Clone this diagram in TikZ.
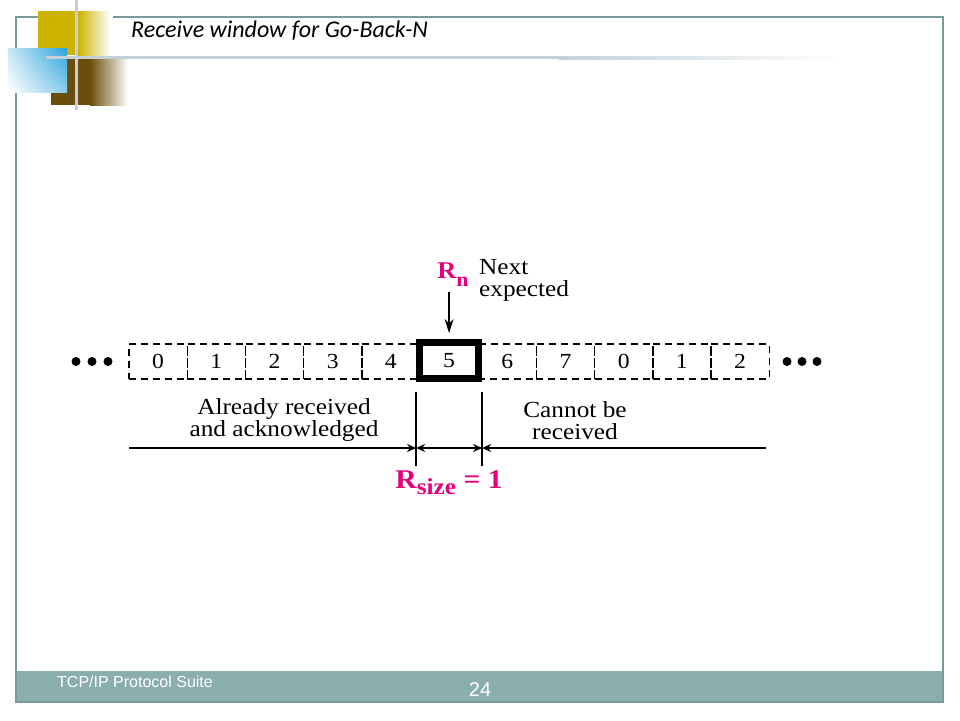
\documentclass[tikz,border=0pt]{standalone}
\usepackage{fontspec}
\setmainfont{Liberation Serif}[FakeStretch=1.1]
\newfontfamily\titlefont{Carlito}
\newfontfamily\footfont{Liberation Sans}
\usetikzlibrary{arrows.meta,positioning,shadings}

\definecolor{magentared}{RGB}{228,0,124}
\definecolor{frameteal}{RGB}{122,154,154}
\definecolor{bandteal}{RGB}{138,173,173}
\definecolor{gold}{RGB}{204,180,0}
\definecolor{umber}{RGB}{106,78,10}
\definecolor{skyblue}{RGB}{41,163,218}
\definecolor{rulegray}{RGB}{196,207,215}

\tikzset{
    cell/.style={draw,dash pattern=on 7pt off 5pt,line width=1.4pt,minimum width=58.2pt,
        minimum height=35pt,inner sep=0pt,font=\fontsize{21.5}{21.5}\selectfont},
    nextbox/.style={draw,line width=7pt,minimum width=59pt,minimum height=36pt,
        inner sep=0pt,font=\fontsize{21.5}{21.5}\selectfont},
    note/.style={inner sep=0pt,font=\fontsize{23}{22}\selectfont},
    pinklabel/.style={inner sep=0pt,text=magentared,font=\bfseries\fontsize{24}{24}\selectfont},
    footnote/.style={inner sep=0pt,text=white,font=\footfont\fontsize{16}{16}\selectfont},
    dimline/.style={line width=1.3pt},
}

\begin{document}
\begin{tikzpicture}[x=1pt,y=-1pt,>={Stealth[length=9pt,width=8pt]}]
    \useasboundingbox (0,0) rectangle (960,720);
    % slide frame and footer
    \fill[bandteal] (16,671) rectangle (943,702);
    \draw[frameteal,line width=1.3pt] (16,17) rectangle (943,702);
    \fill[white] (38,10) rectangle (113,18);
    % corner squares
    \fill[gold] (38,11) rectangle (79,55);
    \shade[left color=gold,right color=white] (78,11) rectangle (110,55);
    \fill[umber] (51,58) rectangle (91,105);
    \shade[left color=umber,right color=white] (90,58) rectangle (128,105);
    \shade[upper left=skyblue!25,upper right=skyblue,lower left=white,lower right=skyblue!55] (8,48) rectangle (67,92);
    \draw[rulegray,line width=3pt] (76.5,0) -- (76.5,110);
    \fill[rulegray] (46,56) rectangle (560,59);
    \shade[left color=rulegray,right color=white] (559,56) rectangle (840,59);
    \node[anchor=base west,inner sep=0pt,font=\titlefont\itshape\fontsize{24}{24}\selectfont] (title) at (131,37) {Receive window for Go-Back-N};
    \node[footnote,anchor=base west] (suite) at (57,687) {TCP/IP Protocol Suite};
    \node[footnote,anchor=base,font=\footfont\fontsize{20}{20}\selectfont] (page) at (480,696) {24};

    % the window
    \foreach \i/\lbl in {0/0,1/1,2/2,3/3,4/4,6/6,7/7,8/0,9/1,10/2}
        \node[cell] (c\i) at ({129+58.2*(\i+0.5)},361.5) {\lbl};
    \node[nextbox] (c5) at (449.1,360.5) {5};
    \foreach \x in {76,92,108,787,802,817}
        \fill (\x,361.5) circle[radius=4.5];

    \coordinate (rnfoot) at (449.1,292);
    \draw[line width=1.4pt,-{Stealth[length=14pt,width=9pt]},shorten >=6pt] (rnfoot) -- (c5.north);
    \node[pinklabel,anchor=base] (rn) at (453,278) {R\raisebox{-8pt}{\fontsize{20}{20}\selectfont n}};
    \node[note,align=left,anchor=base west] (next) at (479,296) {Next\\expected};

    % received / not received
    \coordinate (lwtop) at ([yshift=-10pt]c5.south west);
    \coordinate (lwbot) at ([yshift=-84pt]c5.south west);
    \coordinate (rwtop) at ([yshift=-10pt]c5.south east);
    \coordinate (rwbot) at ([yshift=-84pt]c5.south east);
    \draw[dimline] (lwtop) -- (lwbot);
    \draw[dimline] (rwtop) -- (rwbot);
    \coordinate (l0) at (129,448);
    \coordinate (l1) at (766,448);
    \draw[dimline,->] (l0) -- (lwtop |- l0);
    \draw[dimline,<->] (lwtop |- l0) -- (rwtop |- l0);
    \draw[dimline,<-] (rwtop |- l0) -- (l1);
    \node[note,align=center,anchor=base] (done) at (284,436) {Already received\\and acknowledged};
    \node[note,align=center,anchor=base] (notyet) at (575,439) {Cannot be\\received};
    \node[pinklabel,anchor=base,font=\bfseries\fontsize{27}{27}\selectfont] (rsize) at (449,488) {R\raisebox{-6pt}{\fontsize{23}{23}\selectfont size} = 1};
\end{tikzpicture}
\end{document}
